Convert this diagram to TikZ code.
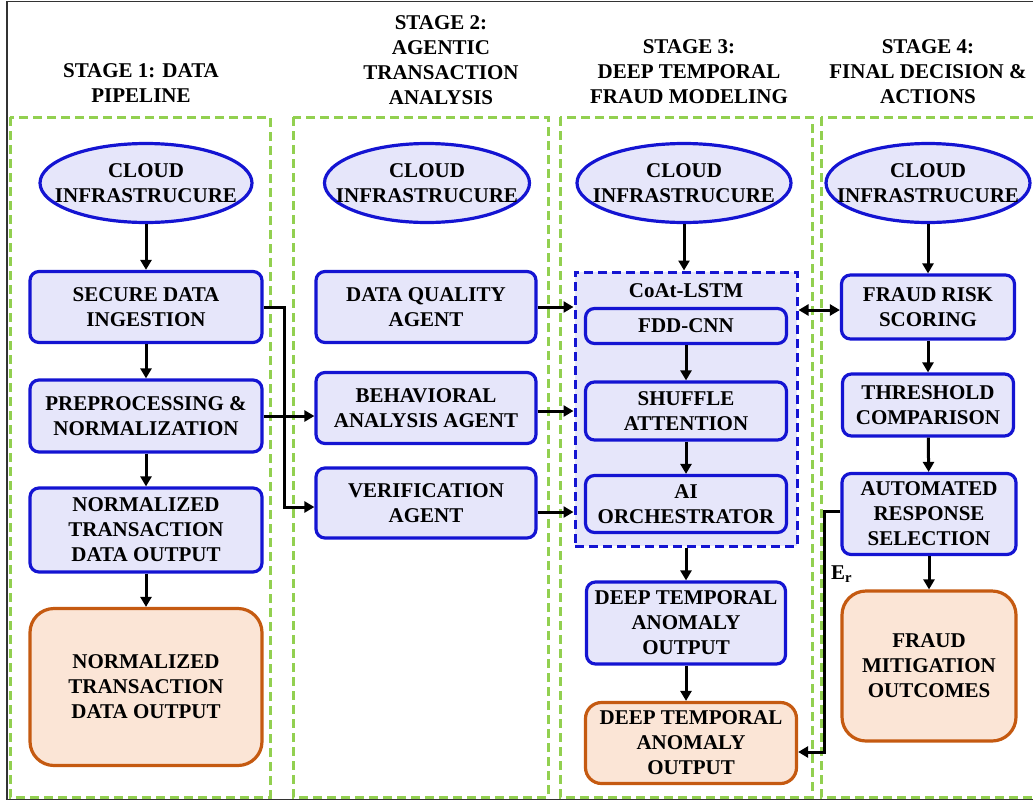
\documentclass[tikz,border=0pt]{standalone}
\usepackage{fontspec}
\setmainfont{Liberation Serif}
\usetikzlibrary{arrows.meta,shapes.geometric,calc}
\definecolor{bluebd}{RGB}{20,20,210}
\definecolor{lav}{RGB}{230,230,250}
\definecolor{orbd}{RGB}{197,90,17}
\definecolor{peach}{RGB}{251,229,214}
\definecolor{grn}{RGB}{146,208,80}
\tikzset{
  txt/.style={font=\fontsize{21}{25}\selectfont\bfseries, align=center, inner sep=0pt},
  panel/.style={draw=grn, line width=3pt, dash pattern=on 9pt off 5pt},
  bbox/.style={txt, draw=bluebd, fill=lav, line width=3.2pt, rounded corners=9pt},
  obox/.style={txt, draw=orbd, fill=peach, line width=3.2pt, rounded corners=24pt},
  cloudell/.style={ellipse, draw=bluebd, fill=lav, line width=3.2pt, inner sep=0pt, minimum width=212pt, minimum height=79pt},
  arr/.style={line width=3pt, -{Triangle[length=10pt,width=11pt]}},
  darr/.style={line width=3pt, {Triangle[length=10pt,width=11pt]}-{Triangle[length=10pt,width=11pt]}},
}
\begin{document}
\begin{tikzpicture}[x=1pt,y=-1pt]
\useasboundingbox (0,0) rectangle (1033,801);
\begin{scope}
\clip (0,0) rectangle (1033,801);
\draw[line width=1.2pt, black!80] (7,1.5) rectangle (1045,799.5);
% panels
\draw[panel] (10,117) rectangle (270,797);
\draw[panel] (293,117) rectangle (548,797);
\draw[panel] (560,117) rectangle (812,797);
\draw[panel] (821,117) rectangle (1045,797);
\end{scope}
% titles
\node[txt] (t1) at (141,83) {STAGE 1: DATA\\PIPELINE};
\node[txt] (t2) at (441,60) {STAGE 2:\\AGENTIC\\TRANSACTION\\ANALYSIS};
\node[txt] (t3) at (689,72) {STAGE 3:\\DEEP TEMPORAL\\FRAUD MODELING};
\node[txt] (t4) at (928,72) {STAGE 4:\\FINAL DECISION \&\\ACTIONS};
% stage 1
\node[cloudell] (c1) at (146,183) {};
\node[txt] (c1t) at (c1) {CLOUD\\INFRASTRUCURE};
\node[bbox, minimum width=232pt, minimum height=71pt] (sdi) at (146,307) {SECURE DATA\\INGESTION};
\node[bbox, minimum width=232pt, minimum height=72pt] (pre) at (146,416) {PREPROCESSING \&\\NORMALIZATION};
\node[bbox, minimum width=232pt, minimum height=84pt] (ntd) at (146,530) {NORMALIZED\\TRANSACTION\\DATA OUTPUT};
\node[obox, minimum width=232pt, minimum height=157pt] (ntdo) at (146,687) {NORMALIZED\\TRANSACTION\\DATA OUTPUT};
% stage 2
\node[cloudell, minimum width=205pt] (c2) at (427,183) {};
\node[txt] (c2t) at (c2) {CLOUD\\INFRASTRUCURE};
\node[bbox, minimum width=220pt, minimum height=71pt] (dq) at (426,307) {DATA QUALITY\\AGENT};
\node[bbox, minimum width=220pt, minimum height=71pt] (beh) at (426,408) {BEHAVIORAL\\ANALYSIS AGENT};
\node[bbox, minimum width=220pt, minimum height=70pt] (ver) at (426,503) {VERIFICATION\\AGENT};
% stage 3
\node[cloudell, minimum width=214pt] (c3) at (684,183) {};
\node[txt] (c3t) at (c3) {CLOUD\\INFRASTRUCURE};
\node[draw=bluebd, fill=lav, line width=3pt, dash pattern=on 9pt off 5pt, minimum width=222pt, minimum height=274pt, inner sep=0pt] (cont) at (686,409) {};
\node[txt] (coat) at (686,291) {CoAt-LSTM};
\node[bbox, minimum width=201pt, minimum height=35pt] (fdd) at (686,326) {FDD-CNN};
\node[bbox, minimum width=201pt, minimum height=58pt] (sha) at (686,411) {SHUFFLE\\ATTENTION};
\node[bbox, minimum width=201pt, minimum height=57pt] (aio) at (686,504) {AI\\ORCHESTRATOR};
\node[bbox, minimum width=199pt, minimum height=82pt] (dta) at (686,623) {DEEP TEMPORAL\\ANOMALY\\OUTPUT};
\node[obox, rounded corners=16pt, minimum width=211pt, minimum height=81pt] (dtao) at (691,743) {DEEP TEMPORAL\\ANOMALY\\OUTPUT};
% stage 4
\node[cloudell, minimum width=204pt] (c4) at (928,183) {};
\node[txt] (c4t) at (c4) {CLOUD\\INFRASTRUCURE};
\node[bbox, minimum width=173pt, minimum height=64pt] (frs) at (928,307) {FRAUD RISK\\SCORING};
\node[bbox, minimum width=171pt, minimum height=62pt] (thr) at (928,405) {THRESHOLD\\COMPARISON};
\node[bbox, minimum width=174pt, minimum height=81pt] (ars) at (929,514) {AUTOMATED\\RESPONSE\\SELECTION};
\node[obox, minimum width=174pt, minimum height=150pt] (fmo) at (929,666) {FRAUD\\MITIGATION\\OUTCOMES};
% arrows stage 1
\draw[arr] (c1) -- (sdi);
\draw[arr] (sdi) -- (pre);
\draw[arr] (pre) -- (ntd);
\draw[arr] (ntd) -- (ntdo);
\draw[arr] (sdi.east) -- ++(21,0) |- ($(ver.west)+(0,4)$);
\draw[arr] (pre.east) -- (pre.east -| beh.west);
% stage 2 -> 3
\draw[arr] (dq.east) -- (dq.east -| cont.west);
\draw[arr] ($(beh.east)+(0,3)$) -- ($(beh.east -| cont.west)+(0,3)$);
\draw[arr] ($(ver.east)+(0,9)$) -- ($(ver.east -| cont.west)+(0,9)$);
% stage 3
\draw[arr] (c3) -- (cont.north -| c3);
\draw[arr] (fdd) -- (sha);
\draw[arr] (sha) -- (aio);
\draw[arr] (cont.south -| dta) -- (dta);
\draw[arr] (dta) -- (dta.south |- dtao.north);
\draw[darr] ($(cont.east |- frs)+(0,3)$) -- ($(frs.west)+(0,3)$);
% stage 4
\draw[arr] (c4) -- (frs);
\draw[arr] (frs) -- (thr);
\draw[arr] (thr) -- (ars);
\draw[arr] (ars) -- (fmo);
\draw[arr] ($(ars.west)+(0,-3)$) -- ++(-16,0) |- ($(dtao.east)+(0,9)$);
\node[txt, anchor=west] (er) at (831,574) {E\textsubscript{r}};
\end{tikzpicture}
\end{document}
